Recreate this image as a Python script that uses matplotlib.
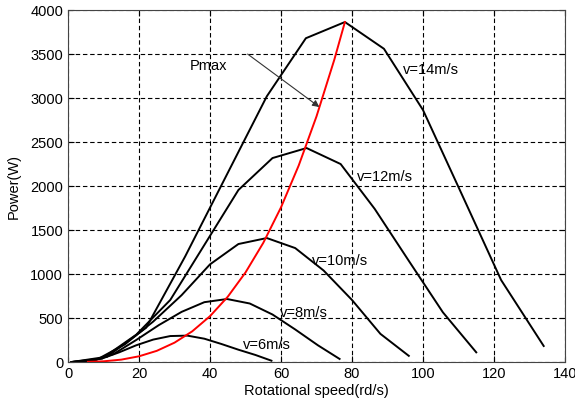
import matplotlib
matplotlib.use('Agg')
from matplotlib import pyplot as plt

plt.rcParams['font.family'] = ['Liberation Sans', 'DejaVu Sans']

# wind speed curves (rotational speed rd/s, power W)
w14 = [1, 11, 22, 33, 45, 56, 67, 78, 89, 100, 111, 122, 134]
p14 = [0, 60, 390, 1200, 2150, 3020, 3680, 3864, 3560, 2864, 1900, 932, 182]
w12 = [1, 9.6, 19.2, 28.8, 38.4, 48, 57.6, 67.2, 76.8, 86.4, 96, 105.6, 115]
p12 = [0, 40, 310, 705, 1330, 1955, 2318, 2432, 2250, 1740, 1150, 565, 110]
w10 = [1, 8, 16, 24, 32, 40, 48, 56, 64, 72, 80, 88, 96]
p10 = [0, 25, 200, 460, 760, 1110, 1341, 1409, 1295, 1040, 705, 320, 70]
w8 = [1, 6.4, 12.8, 19.2, 25.6, 32, 38.4, 44.8, 51.2, 57.6, 64, 70.4, 76.5]
p8 = [0, 10, 90, 250, 420, 570, 680, 716, 665, 540, 370, 190, 35]
w6 = [1, 4.8, 9.6, 14.4, 19.2, 24, 28.8, 33.6, 38.4, 43.2, 48, 52.8, 57.3]
p6 = [0, 5, 40, 110, 190, 255, 295, 300, 265, 205, 140, 80, 15]

# optimal power curve
wmax = [5.6, 10, 15, 20, 25, 30, 35, 40, 45, 50, 55, 60, 65, 70, 75, 78]
pmax = [2, 8, 27, 65, 127, 220, 349, 521, 742, 1018, 1354, 1758, 2235, 2792, 3434, 3864]

labels = ['v=14m/s', 'v=12m/s', 'v=10m/s', 'v=8m/s', 'v=6m/s']
label_pos = [(94.4, 3318), (81.5, 2102), (68.8, 1148), (59.6, 557), (49.4, 193)]

fig = plt.figure(figsize=(5.75, 4.03), dpi=100)
ax = fig.add_axes([0.1183, 0.1017, 0.8643, 0.8733])

for w, p in [(w14, p14), (w12, p12), (w10, p10), (w8, p8), (w6, p6)]:
    ax.plot(w, p, color='black', lw=1.4)
ax.plot(wmax, pmax, color='red', lw=1.4)

for txt, (x, y) in zip(labels, label_pos):
    ax.text(x, y, txt, fontsize=10.5, va='center', ha='left')

ax.text(34.3, 3364, 'Pmax', fontsize=10.5, va='center', ha='left')
ax.annotate('', xy=(70.8, 2898), xytext=(50.6, 3500),
            arrowprops=dict(arrowstyle='-|>', color='#333333', lw=0.8,
                            mutation_scale=10, shrinkA=0, shrinkB=0))

ax.set_xlim(0, 140)
ax.set_ylim(0, 4000)
ax.set_xticks(range(0, 141, 20))
ax.set_yticks(range(0, 4001, 500))
ax.grid(True, color='black', linestyle=(0, (4, 2.5)), lw=0.8)
ax.tick_params(direction='in', top=True, right=True, labelsize=10.5, length=4)
for s in ax.spines.values():
    s.set_color('#444444')
ax.set_xlabel('Rotational speed(rd/s)', fontsize=10.5, labelpad=2)
ax.set_ylabel('Power(W)', fontsize=10.5, labelpad=7)

fig.savefig('out.png', dpi=100)
